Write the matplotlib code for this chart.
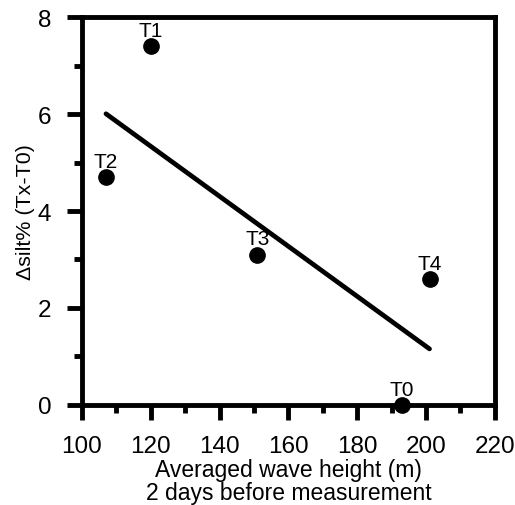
import numpy as np
import matplotlib
matplotlib.use("Agg")
import matplotlib.pyplot as plt
from matplotlib.ticker import MultipleLocator

labels = ["T0", "T1", "T2", "T3", "T4"]
wave = [193, 120, 107, 151, 201]
dsilt = [0.0, 7.4, 4.7, 3.1, 2.6]
xticks = [100, 120, 140, 160, 180, 200, 220]
yticks = [0, 2, 4, 6, 8]

plt.rcParams['font.family'] = ['Liberation Sans', 'DejaVu Sans']
fig = plt.figure(figsize=(5.15, 5.06), dpi=100)
ax = fig.add_axes([0.159, 0.198, 0.802, 0.766])

ax.plot(wave, dsilt, 'o', color='black', markersize=11, zorder=5, clip_on=False)
slope, icpt = np.polyfit(wave, dsilt, 1)
xs = np.array([min(wave), max(wave)])
ax.plot(xs, slope * xs + icpt, color='black', lw=3.4, solid_capstyle='round')

for lab, x, y in zip(labels, wave, dsilt):
    ax.annotate(lab, (x, y), xytext=(0, 4.5), textcoords='offset points',
                ha='center', va='bottom', fontsize=15)

ax.set_xlim(100, 220)
ax.set_ylim(0, 8)
ax.set_xticks(xticks)
ax.set_yticks(yticks)
ax.xaxis.set_minor_locator(MultipleLocator(10))
ax.yaxis.set_minor_locator(MultipleLocator(1))
ax.tick_params(which='major', length=11, width=3.5, labelsize=17.5, direction='out')
ax.tick_params(which='minor', length=6, width=3.5, direction='out')
ax.tick_params(axis='x', which='major', pad=11)
ax.tick_params(axis='y', which='major', pad=11)
ax.tick_params(top=False, right=False, which='both')
for s in ax.spines.values():
    s.set_linewidth(3.5)
ax.set_xlabel("Averaged wave height (m)\n2 days before measurement", fontsize=16.5, labelpad=0.5, linespacing=0.98)
ax.set_ylabel("Δsilt% (Tx-T0)", fontsize=15.4, labelpad=2)

fig.savefig("out.png", dpi=100)
